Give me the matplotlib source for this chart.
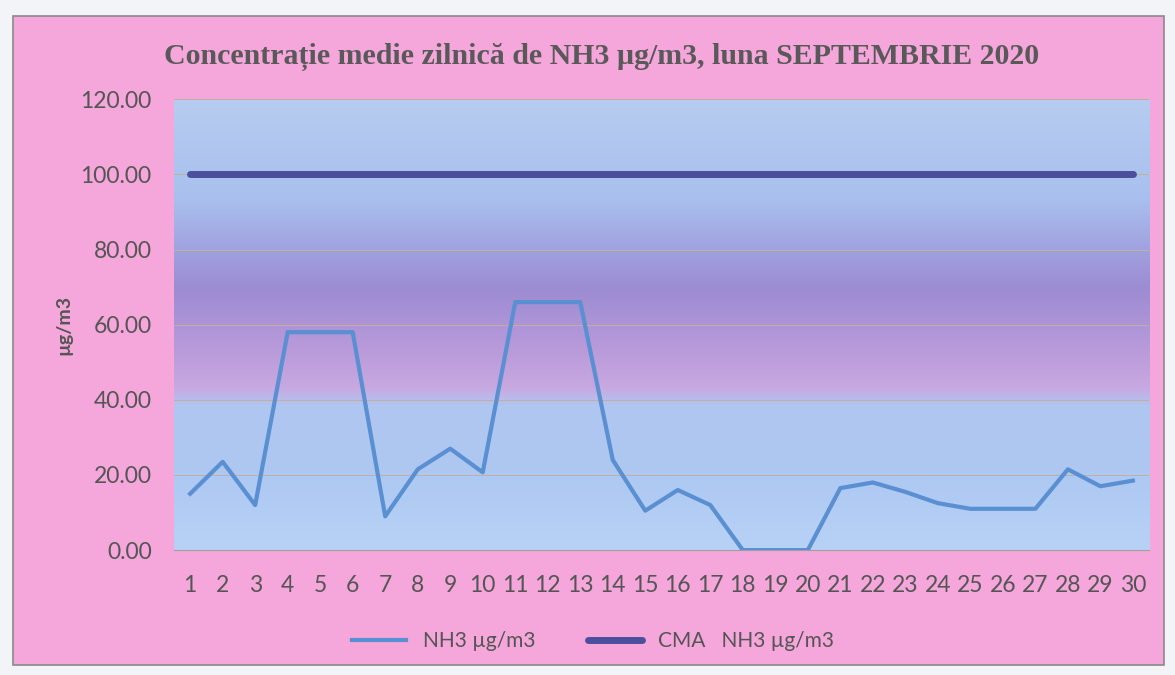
import numpy as np
import matplotlib
matplotlib.use("Agg")
from matplotlib import pyplot as plt
from matplotlib.colors import LinearSegmentedColormap
from matplotlib.patches import Rectangle

# daily data, September 2020
days = list(range(1, 31))
nh3 = [15, 23.5, 12, 58, 58, 58, 9, 21.5, 27, 20.7,
       66, 66, 66, 24, 10.5, 16, 12, 0, 0, 0,
       16.5, 18, 15.5, 12.5, 11, 11, 11, 21.5, 17, 18.5]
cma = [100] * 30
y_ticks = [0, 20, 40, 60, 80, 100, 120]

title = "Concentrație medie zilnică de NH3 µg/m3, luna SEPTEMBRIE 2020"

fig = plt.figure(figsize=(11.75, 6.75), dpi=100)
fig.patch.set_facecolor("#f3f4f8")
# pink chart area with thin border
fig.add_artist(Rectangle((0.011, 0.015), 0.98, 0.962, transform=fig.transFigure,
                         facecolor="#f5a6da", edgecolor="#8a8a8a", lw=1.2, zorder=-5))

ax = fig.add_axes([0.148, 0.185, 0.830, 0.668])

# background gradient of the plot area (bottom -> top)
grad = LinearSegmentedColormap.from_list("bg", [
    (0.00, "#b8d2f6"),
    (0.17, "#adc8f2"),
    (0.32, "#b0c6f0"),
    (0.36, "#c8a8e0"),
    (0.45, "#b89ada"),
    (0.58, "#9c8cd2"),
    (0.66, "#a0a0de"),
    (0.78, "#a9c0ee"),
    (1.00, "#b6ccf0"),
])
ax.imshow(np.linspace(0, 1, 256).reshape(-1, 1), cmap=grad, origin="lower",
          extent=[0.5, 30.5, 0, 120], aspect="auto", zorder=0)

ax.plot(days, nh3, color="#5a8fd2", lw=3, label="NH3 µg/m3", zorder=3)
ax.plot(days, cma, color="#4b4f9c", lw=5, label="CMA   NH3 µg/m3", zorder=3,
        solid_capstyle="round")

ax.set_xlim(0.5, 30.5)
ax.set_ylim(0, 120)
ax.set_yticks(y_ticks)
ax.set_yticklabels([f"{v:.2f}" for v in y_ticks])
ax.set_xticks(days)
ax.grid(axis="y", color="#c0b0a0", lw=0.7, zorder=1)
ax.set_axisbelow(False)
for s in ["top", "right", "left"]:
    ax.spines[s].set_visible(False)
ax.spines["bottom"].set_color("#a0a0a0")
ax.tick_params(axis="both", length=0, colors="#555555", labelsize=16.5)
ax.tick_params(axis="x", pad=18)
ax.tick_params(axis="y", pad=16)
for lab in ax.get_xticklabels() + ax.get_yticklabels():
    lab.set_family("Lato")

ax.set_ylabel("µg/m3", fontsize=14, fontweight="bold", color="#555555",
              family="Lato", labelpad=6)

fig.text(0.512, 0.915, title, ha="center", va="center", fontsize=21.5,
         fontweight="bold", color="#595959", family="Liberation Serif")

leg = fig.legend(loc="center", bbox_to_anchor=(0.505, 0.05), ncol=2, frameon=False,
                 handlelength=2.6, columnspacing=2.5,
                 prop={"family": "Lato", "size": 15})
for t in leg.get_texts():
    t.set_color("#555555")

fig.savefig("out.png", dpi=100, facecolor=fig.get_facecolor())
